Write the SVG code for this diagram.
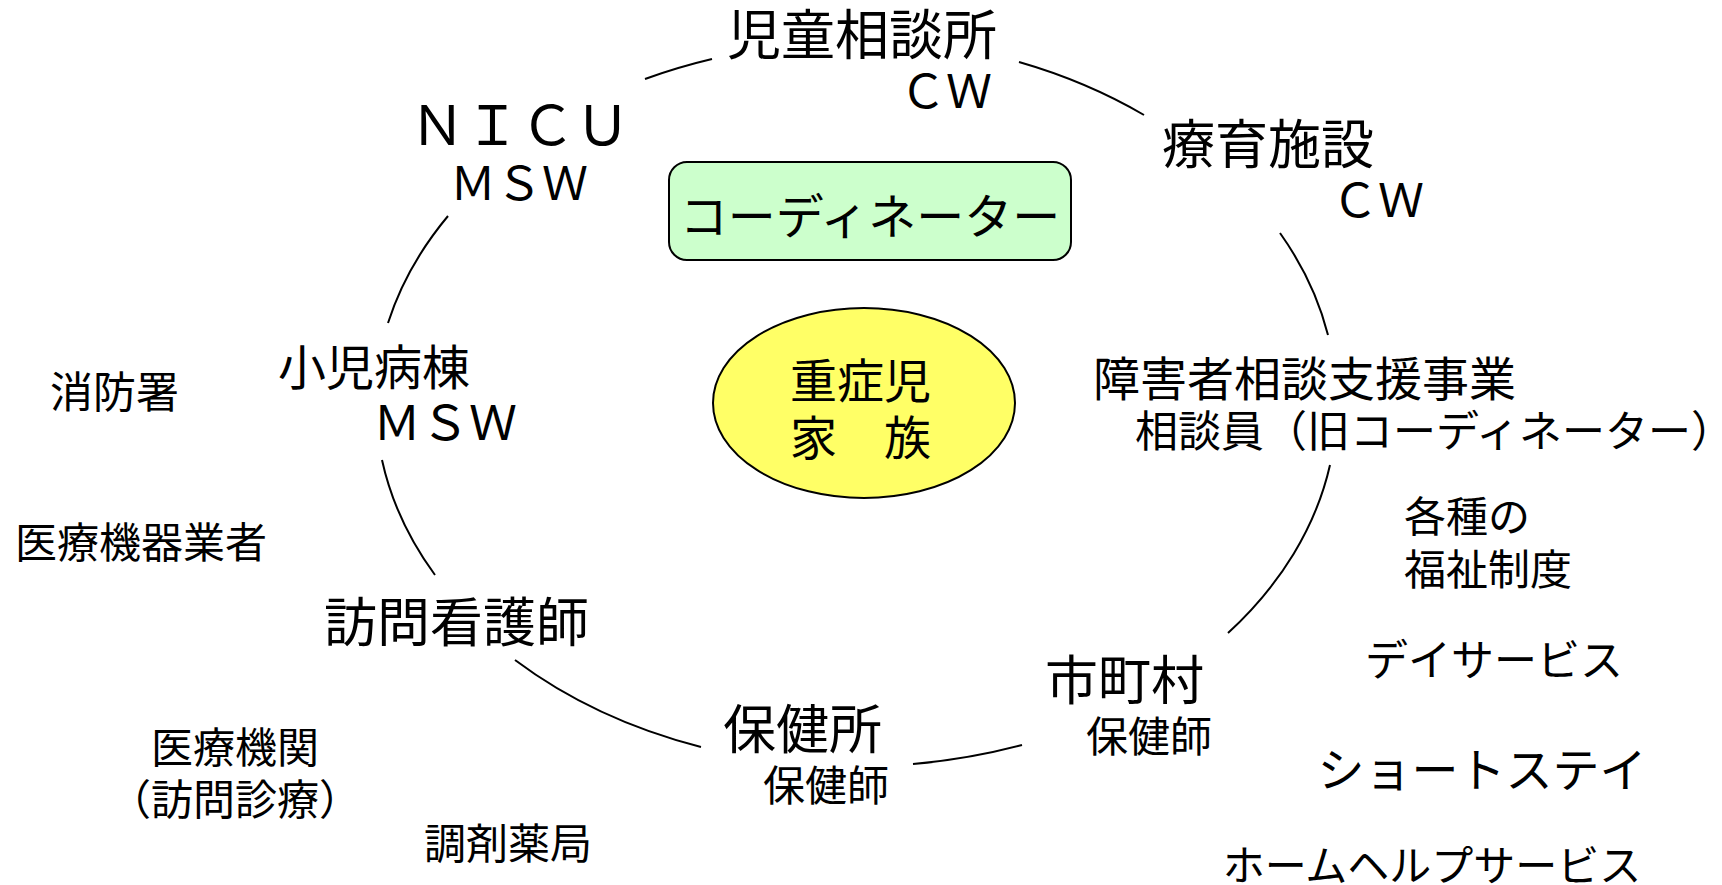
<svg xmlns="http://www.w3.org/2000/svg" width="1722" height="885" viewBox="0 0 1722 885">
<style>
text{font-family:"Noto Sans CJK JP","Noto Sans CJK SC",sans-serif;fill:#000}
.c{text-anchor:middle}
.arc{fill:none;stroke:#000;stroke-width:2}
</style>
<rect width="1722" height="885" fill="#fff"/>
<g id="connectors">
<path class="arc" d="M645,79 A485,362 0 0 1 712,59"/>
<path class="arc" d="M1019,62 A485,362 0 0 1 1144,115"/>
<path class="arc" d="M1280,233 A485,362 0 0 1 1328,335"/>
<path class="arc" d="M1330,465 A485,362 0 0 1 1228,633"/>
<path class="arc" d="M1022,745 A485,362 0 0 1 913,764"/>
<path class="arc" d="M701,747 A485,362 0 0 1 515,660"/>
<path class="arc" d="M435,575 A485,362 0 0 1 382,460"/>
<path class="arc" d="M388,323 A485,362 0 0 1 448,216"/>
</g>
<g id="jidou"><text x="727" y="55" font-size="54">児童相談所</text><text class="c" x="946" y="108" font-size="46">ＣＷ</text></g>
<g id="nicu"><text class="c" x="520" y="145" font-size="55">ＮＩＣＵ</text><text class="c" x="519" y="200" font-size="46">ＭＳＷ</text></g>
<g id="coordinator"><rect x="669" y="162" width="402" height="98" rx="18" fill="#ccffcc" stroke="#000" stroke-width="2"/><text class="c" x="870" y="234" font-size="48">コーディネーター</text></g>
<g id="ryouiku"><text x="1162" y="164" font-size="53">療育施設</text><text class="c" x="1378" y="217" font-size="46">ＣＷ</text></g>
<g id="shougai"><text x="1093" y="396" font-size="47">障害者相談支援事業</text><text x="1135" y="447" font-size="43">相談員（旧コーディネーター）</text></g>
<g id="shouni"><text x="278" y="385" font-size="48">小児病棟</text><text class="c" x="445" y="440" font-size="48">ＭＳＷ</text></g>
<g id="family"><ellipse cx="864" cy="403" rx="151" ry="95" fill="#ffff66" stroke="#000" stroke-width="2"/><text x="790" y="398" font-size="47">重症児</text><text x="790" y="455" font-size="47">家　族</text></g>
<g id="houmon"><text x="324" y="642" font-size="53">訪問看護師</text></g>
<g id="hokenjo"><text x="723" y="749" font-size="53">保健所</text><text x="763" y="801" font-size="42">保健師</text></g>
<g id="shichouson"><text x="1045" y="700" font-size="53">市町村</text><text x="1086" y="752" font-size="42">保健師</text></g>
<g id="shoubousho"><text x="50" y="408" font-size="43">消防署</text></g>
<g id="iryoukiki"><text x="15" y="558" font-size="42">医療機器業者</text></g>
<g id="iryoukikan"><text class="c" x="235" y="763" font-size="42">医療機関</text><text class="c" x="235" y="815" font-size="42">（訪問診療）</text></g>
<g id="yakkyoku"><text class="c" x="508" y="859" font-size="42">調剤薬局</text></g>
<g id="fukushi"><text x="1404" y="532" font-size="42">各種の</text><text x="1404" y="585" font-size="42">福祉制度</text></g>
<g id="day"><text class="c" x="1494" y="676" font-size="43">デイサービス</text></g>
<g id="short"><text class="c" x="1482" y="787" font-size="47">ショートステイ</text></g>
<g id="home"><text class="c" x="1432" y="881" font-size="42">ホームヘルプサービス</text></g>
</svg>
